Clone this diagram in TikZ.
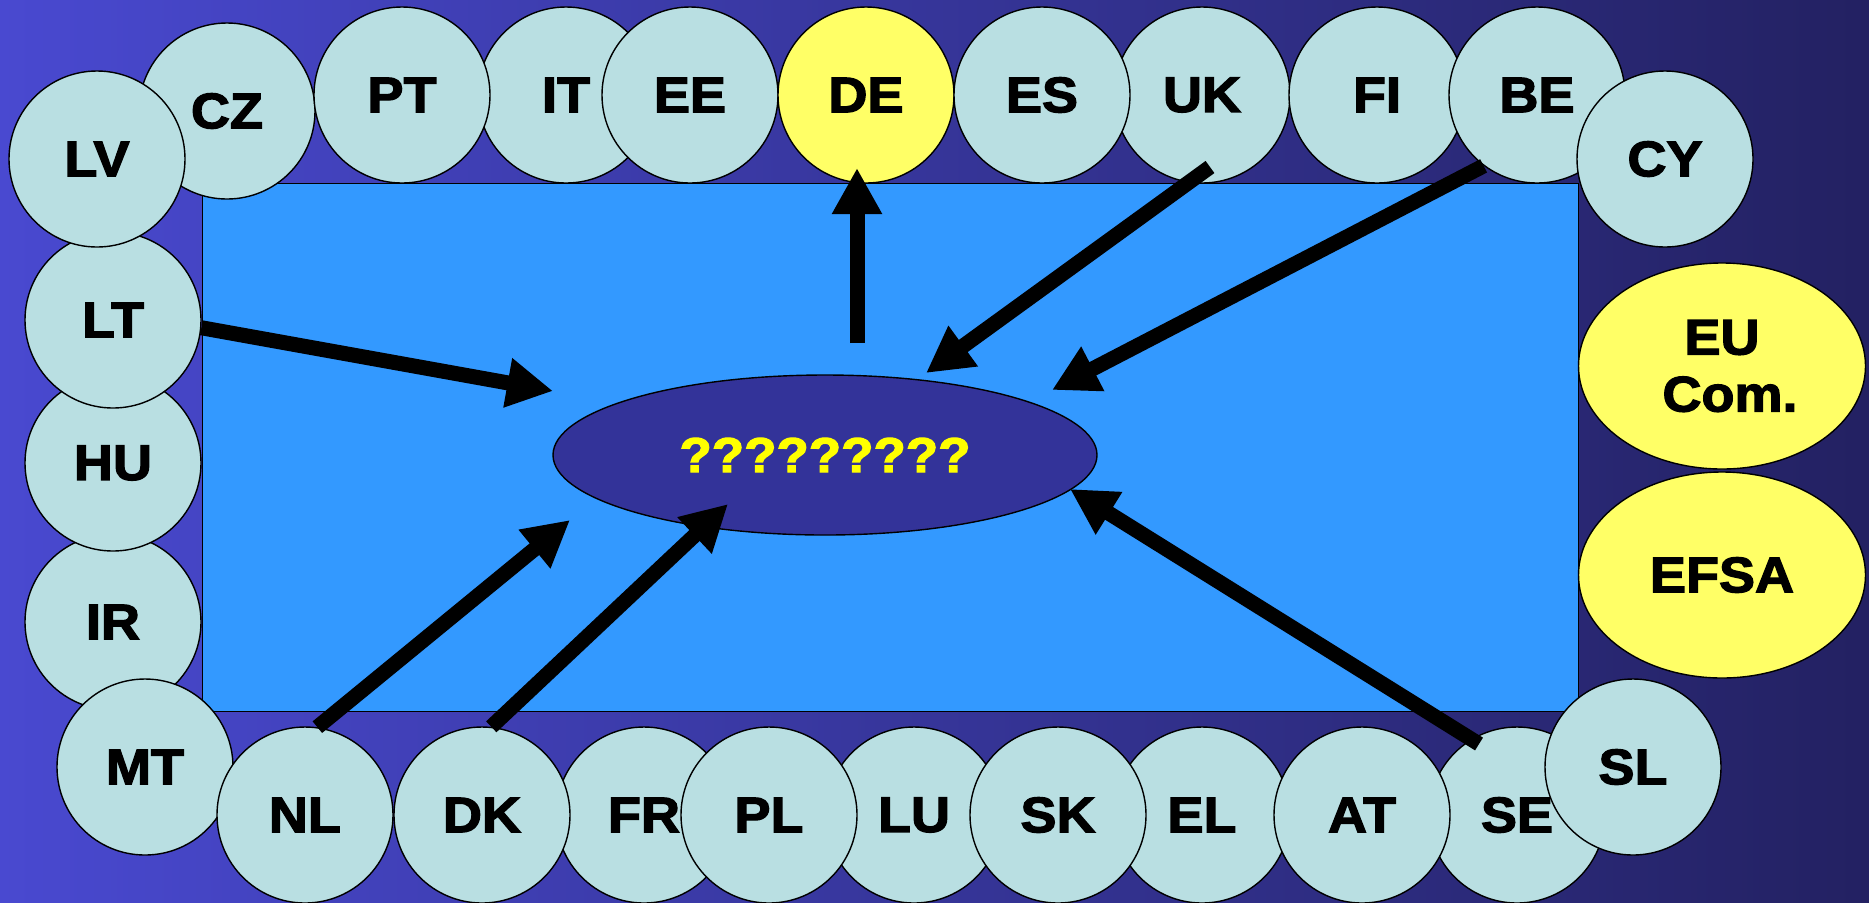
\documentclass[tikz,border=0pt]{standalone}
\usepackage{fontspec}
\setmainfont{Liberation Sans}
\newfontfamily\heavyfont{Liberation Sans Bold}[FakeBold=2.5,FakeStretch=1.08]
\usetikzlibrary{arrows.meta,shapes.geometric}

\definecolor{bgleft}{RGB}{73,73,208}
\definecolor{bgright}{RGB}{35,33,98}
\definecolor{field}{RGB}{51,153,255}
\definecolor{member}{RGB}{185,223,226}
\definecolor{agency}{RGB}{255,255,102}
\definecolor{core}{RGB}{51,51,153}
\definecolor{qmark}{RGB}{255,255,0}

\begin{document}
\begin{tikzpicture}[x=0.5pt,y=-0.5pt,
  cty/.style={circle,draw=black,line width=0.7pt,fill=member,
    minimum size=88pt,inner sep=0pt,
    font=\heavyfont\fontsize{25}{28}\selectfont},
  hub/.style={cty,fill=agency},
  inst/.style={ellipse,draw=black,line width=0.7pt,fill=agency,
    minimum width=143.5pt,minimum height=103pt,inner sep=0pt,align=center,
    font=\heavyfont\fontsize{25}{28.5}\selectfont},
  coreshape/.style={ellipse,draw=black,line width=0.7pt,fill=core,
    minimum width=272pt,minimum height=80pt,inner sep=0pt,text=qmark,
    font=\heavyfont\fontsize{24.5}{30}\selectfont},
  flow/.style={line width=7.5pt,-{Triangle[length=23pt,width=23.5pt]}}
]
\useasboundingbox (0,0) rectangle (1869,902);

% background and central field
\shade[left color=bgleft,right color=bgright] (0,0) rectangle (1869,902);
\draw[fill=field,line width=0.5pt] (202,183) rectangle (1578,711);

% central question
\node[coreshape] (Q) at (825,455) {?????????};

% left column and top row
\node[cty] (IR) at (113,622) {IR};
\node[cty] (HU) at (113,463) {HU};
\node[cty] (LT) at (113,320) {LT};
\node[cty] (CZ) at (227,111) {CZ};
\node[cty] (LV) at (97,159) {LV};
\node[cty] (MT) at (145,767) {MT};
\node[cty] (NL) at (305,815) {NL};
\node[cty] (IT) at (566,95) {IT};
\node[cty] (PT) at (402,95) {PT};
\node[cty] (EE) at (690,95) {EE};
\node[hub] (DE) at (866,95) {DE};
\node[cty] (UK) at (1202,95) {UK};
\node[cty] (ES) at (1042,95) {ES};
\node[cty] (FI) at (1377,95) {FI};
\node[cty] (BE) at (1537,95) {BE};
\node[cty] (CY) at (1665,159) {CY};

% bottom row
\node[cty] (FR) at (644,815) {FR};
\node[cty] (DK) at (482,815) {DK};
\node[cty] (LU) at (914,815) {LU};
\node[cty] (PL) at (769,815) {PL};
\node[cty] (EL) at (1202,815) {EL};
\node[cty] (SK) at (1058,815) {SK};
\node[cty] (SE) at (1517,815) {SE};
\node[cty] (AT) at (1362,815) {AT};
\node[cty] (SL) at (1633,767) {SL};

% European bodies
\node[inst] (EU) at (1722,366) {EU\\\hspace*{8pt}Com.};
\node[inst] (EFSA) at (1722,575) {EFSA};

% flows
\draw[flow] ([shift={(32,-112)}]Q.center) -- ([shift={(-9,73)}]DE.center);
\draw[flow] (LT.-5) -- ([shift={(-272,-64)}]Q.center);
\draw[flow] ([shift={(8,72)}]UK.center) -- ([shift={(101,-82)}]Q.center);
\draw[flow] (BE.-127) -- ([shift={(227,-65)}]Q.center);
\draw[flow] (NL.82) -- ([shift={(-255,65)}]Q.center);
\draw[flow] (DK.84) -- ([shift={(-97,49)}]Q.center);
\draw[flow] ([shift={(-38,-71)}]SE.center) -- ([shift={(245,34)}]Q.center);
\end{tikzpicture}
\end{document}
